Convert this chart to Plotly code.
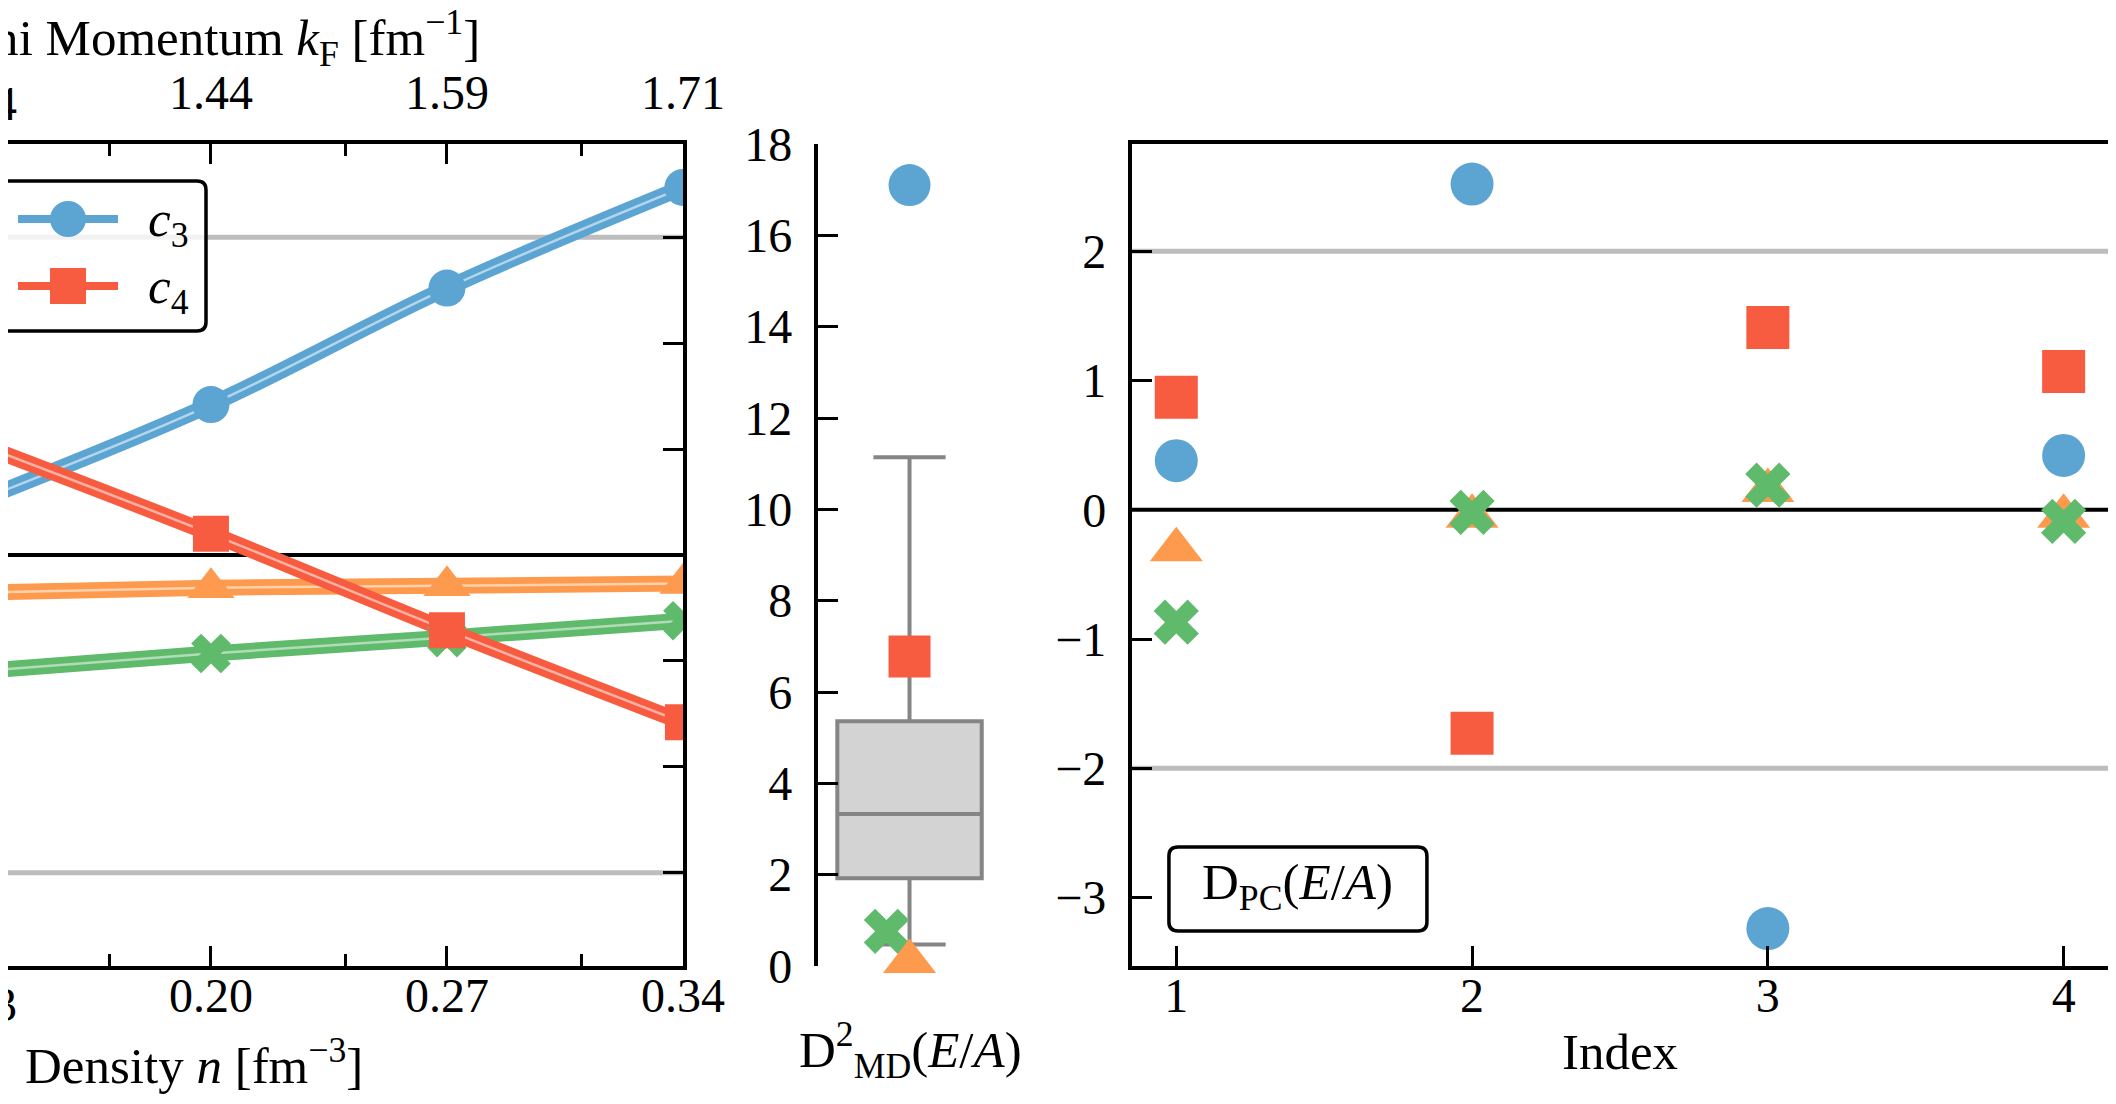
import plotly.graph_objects as go

W, H = 2116, 1104
ML, MR, MT, MB = 0, 16, 136, 146
PW, PH = W - ML - MR, H - MT - MB

FONT = "Liberation Serif"
BLUE, RED, ORANGE, GREEN = "#5ca5d2", "#f75c40", "#fe9a4d", "#5fba6b"
LIGHT = {BLUE: "#b3d6ec", RED: "#fbb1a3", ORANGE: "#fed2ad", GREEN: "#b1dcb7"}

# left panel: coefficients vs density
density = [0.13, 0.20, 0.27, 0.34]
density_labels = ["0.13", "0.20", "0.27", "0.34"]
kf_labels = ["1.24", "1.44", "1.59", "1.71"]
density_minor = [0.17, 0.24, 0.31]
c1 = [-0.355, -0.31, -0.29, -0.27]
c2 = [-1.10, -0.93, -0.78, -0.62]
c3 = [0.50, 1.42, 2.52, 3.47]
c4 = [1.06, 0.20, -0.71, -1.58]
n_range = [0.1398, 0.34]
left_y_range = [-3.88, 3.88]

# middle panel: squared Mahalanobis distance
md_box = dict(lowerfence=0.47, q1=1.92, median=3.33, q3=5.36, upperfence=11.14)
md_c1 = 0.10
md_c2 = 0.76
md_c3 = 17.1
md_c4 = 6.78

# right panel: pivoted Cholesky diagnostics
index = [1, 2, 3, 4]
pc_c1 = [-0.31, -0.05, 0.15, -0.05]
pc_c2 = [-0.87, -0.02, 0.19, -0.09]
pc_c3 = [0.38, 2.52, -3.24, 0.42]
pc_c4 = [0.87, -1.73, 1.41, 1.07]


def px_x(px):
    return (px - ML) / PW


def px_y(py):
    return (H - MB - py) / PH


fig = go.Figure()

# left panel bands: thick line with a light stripe, then markers
series = [(c1, ORANGE, "triangle-up", 41), (c2, GREEN, "x", 35),
          (c3, BLUE, "circle", 37), (c4, RED, "square", 36)]
for vals, col, sym, size in series:
    fig.add_trace(go.Scatter(x=density, y=vals, mode="lines", xaxis="x", yaxis="y",
                             line=dict(color=col, width=16, shape="spline"),
                             showlegend=False, hoverinfo="skip"))
    fig.add_trace(go.Scatter(x=density, y=vals, mode="lines", xaxis="x", yaxis="y",
                             line=dict(color=LIGHT[col], width=2.5, shape="spline"),
                             showlegend=False, hoverinfo="skip"))
for vals, col, sym, size in series:
    fig.add_trace(go.Scatter(x=density, y=vals, mode="markers", xaxis="x", yaxis="y",
                             marker=dict(color=col, symbol=sym, size=size, line_width=0),
                             showlegend=False))
# invisible trace so the top axis is drawn
fig.add_trace(go.Scatter(x=density, y=c3, xaxis="x2", yaxis="y", mode="markers",
                         marker=dict(opacity=0), showlegend=False, hoverinfo="skip"))

# middle panel
fig.add_trace(go.Box(x=[1], q1=[md_box["q1"]], median=[md_box["median"]], q3=[md_box["q3"]],
                     lowerfence=[md_box["lowerfence"]], upperfence=[md_box["upperfence"]],
                     width=0.5, whiskerwidth=0.5, fillcolor="#d3d3d3",
                     line=dict(color="#858585", width=4), boxpoints=False,
                     xaxis="x3", yaxis="y3", showlegend=False))
for xv, yv, col, sym, size in [(1, md_c3, BLUE, "circle", 42), (1, md_c4, RED, "square", 42),
                               (0.92, md_c2, GREEN, "x", 40), (1, md_c1, ORANGE, "triangle-up", 46)]:
    fig.add_trace(go.Scatter(x=[xv], y=[yv], mode="markers", xaxis="x3", yaxis="y3",
                             marker=dict(color=col, symbol=sym, size=size, line_width=0),
                             cliponaxis=False, showlegend=False))

# right panel
for vals, col, sym, size in [(pc_c3, BLUE, "circle", 43), (pc_c4, RED, "square", 43),
                             (pc_c1, ORANGE, "triangle-up", 46), (pc_c2, GREEN, "x", 40)]:
    fig.add_trace(go.Scatter(x=index, y=vals, mode="markers", xaxis="x4", yaxis="y4",
                             marker=dict(color=col, symbol=sym, size=size, line_width=0),
                             cliponaxis=False, showlegend=False))

tick_font = dict(family=FONT, size=48, color="black")
lab_font = dict(family=FONT, size=51, color="black")
axis_common = dict(showgrid=False, zeroline=False, showline=True, linecolor="black",
                   linewidth=4, ticks="inside", tickcolor="black", tickwidth=3,
                   ticklen=20, tickfont=tick_font)

shapes = []
for yv, col, w in [(3, "#bdbdbd", 5), (-3, "#bdbdbd", 5), (0, "black", 4)]:
    shapes.append(dict(type="line", xref="x domain", yref="y", x0=0, x1=1, y0=yv, y1=yv,
                       line=dict(color=col, width=w), layer="below"))
for yv, col, w in [(2, "#bdbdbd", 5), (-2, "#bdbdbd", 5), (0, "black", 4)]:
    shapes.append(dict(type="line", xref="x4 domain", yref="y4", x0=0, x1=1, y0=yv, y1=yv,
                       line=dict(color=col, width=w), layer="below"))


def rounded_box(x0, y0, x1, y1, rx, ry):
    return (f"M{x0+rx},{y0} L{x1-rx},{y0} Q{x1},{y0} {x1},{y0+ry} L{x1},{y1-ry} "
            f"Q{x1},{y1} {x1-rx},{y1} L{x0+rx},{y1} Q{x0},{y1} {x0},{y1-ry} "
            f"L{x0},{y0+ry} Q{x0},{y0} {x0+rx},{y0} Z")


# legend frame and keys (only the right column of the legend is in view)
shapes.append(dict(type="path", xref="paper", yref="paper",
                   path=rounded_box(px_x(-20), px_y(323), px_x(198), px_y(173),
                                    9 / PW, 9 / PH),
                   fillcolor="rgba(255,255,255,0.8)", line=dict(color="black", width=3.5),
                   layer="above"))
legend_items = [("<i>c</i><sub>3</sub>", BLUE, "circle", 211),
                ("<i>c</i><sub>4</sub>", RED, "rect", 278)]
annotations = []
for name, col, kind, yc in legend_items:
    shapes.append(dict(type="line", xref="paper", yref="paper", x0=px_x(10), x1=px_x(110),
                       y0=px_y(yc), y1=px_y(yc), line=dict(color=col, width=8), layer="above"))
    shapes.append(dict(type=kind, xref="paper", yref="paper", x0=px_x(42), x1=px_x(78),
                       y0=px_y(yc + 18), y1=px_y(yc - 18), fillcolor=col,
                       line=dict(color=col, width=0), layer="above"))
    annotations.append(dict(text=name, xref="paper", yref="paper", x=px_x(138), y=px_y(yc + 4),
                            xanchor="left", yanchor="middle", showarrow=False, font=lab_font))

# D_PC label frame
rw, rh = (1 - 0.5352) * PW, PH
shapes.append(dict(type="path", xref="x4 domain", yref="y4 domain",
                   path=rounded_box((1161 - 1124) / rw, (958 - 923) / rh,
                                    (1419 - 1124) / rw, (958 - 839) / rh, 9 / rw, 9 / rh),
                   fillcolor="white", line=dict(color="black", width=3.5), layer="above"))

frac013 = (density[0] - n_range[0]) / (n_range[1] - n_range[0]) * 0.3214
annotations += [
    dict(text="Fermi Momentum <i>k</i><sub>F</sub> [fm<sup>\u22121</sup>]", xref="paper", yref="paper",
         x=px_x(474), y=px_y(30), xanchor="right", yanchor="middle", showarrow=False, font=lab_font),
    dict(text="Density <i>n</i> [fm<sup>\u22123</sup>]", xref="paper", yref="paper",
         x=px_x(186), y=px_y(1054), xanchor="center", yanchor="middle", showarrow=False, font=lab_font),
    dict(text="D<sup>2</sup><sub>MD</sub>(<i>E</i>/<i>A</i>)", xref="paper", yref="paper",
         x=px_x(902), y=px_y(1042), xanchor="center", yanchor="middle", showarrow=False, font=lab_font),
    dict(text="Index", xref="x4 domain", yref="paper", x=0.5, y=px_y(1044),
         xanchor="center", yanchor="middle", showarrow=False, font=lab_font),
    dict(text="D<sub>PC</sub>(<i>E</i>/<i>A</i>)", xref="x4 domain", yref="y4 domain",
         x=(1290 - 1124) / rw, y=(958 - 878) / rh, xanchor="center", yanchor="middle",
         showarrow=False, font=lab_font),
    # labels of the first tick, mostly outside the visible area
    dict(text=density_labels[0], xref="paper", yref="paper", x=frac013, y=px_y(997),
         xanchor="center", yanchor="middle", showarrow=False, font=tick_font),
    dict(text=kf_labels[0], xref="paper", yref="paper", x=frac013, y=px_y(95),
         xanchor="center", yanchor="middle", showarrow=False, font=tick_font),
]

fig.update_layout(
    width=W, height=H,
    margin=dict(l=ML, r=MR, t=MT, b=MB, autoexpand=False),
    paper_bgcolor="white", plot_bgcolor="white",
    font=dict(family=FONT, color="black"),
    xaxis=dict(domain=[0, 0.3214], range=n_range, anchor="y", tickvals=density,
               ticktext=density_labels, ticklabelstandoff=-16,
               minor=dict(ticks="inside", tickvals=density_minor, ticklen=12,
                          tickwidth=3, tickcolor="black"), **axis_common),
    xaxis2=dict(domain=[0, 0.3214], range=n_range, anchor="y", overlaying="x", side="top",
                tickvals=density, ticktext=kf_labels, ticklabelstandoff=12,
                minor=dict(ticks="inside", tickvals=density_minor, ticklen=12,
                           tickwidth=3, tickcolor="black"), **axis_common),
    yaxis=dict(domain=[0, 1], range=left_y_range, anchor="x", side="right",
               tickvals=[-3, -2, -1, 0, 1, 2, 3], showticklabels=False, **axis_common),
    xaxis3=dict(domain=[0.3857, 0.4729], range=[0.683, 1.317], anchor="y3", visible=False),
    yaxis3=dict(domain=[0, 1], range=[0, 18], anchor="x3", dtick=2, tick0=0,
                ticklabelstandoff=12, **axis_common),
    xaxis4=dict(domain=[0.5352, 1], range=[0.85, 4.15], anchor="y4", tickvals=index,
                mirror=True, ticklabelstandoff=-16, **axis_common),
    yaxis4=dict(domain=[0, 1], range=[-3.53, 2.83], anchor="x4", tickvals=[-3, -2, -1, 0, 1, 2],
                mirror=True, ticklabelstandoff=12, **axis_common),
    shapes=shapes,
    annotations=annotations,
    showlegend=False,
)

fig.write_html("out.html")
